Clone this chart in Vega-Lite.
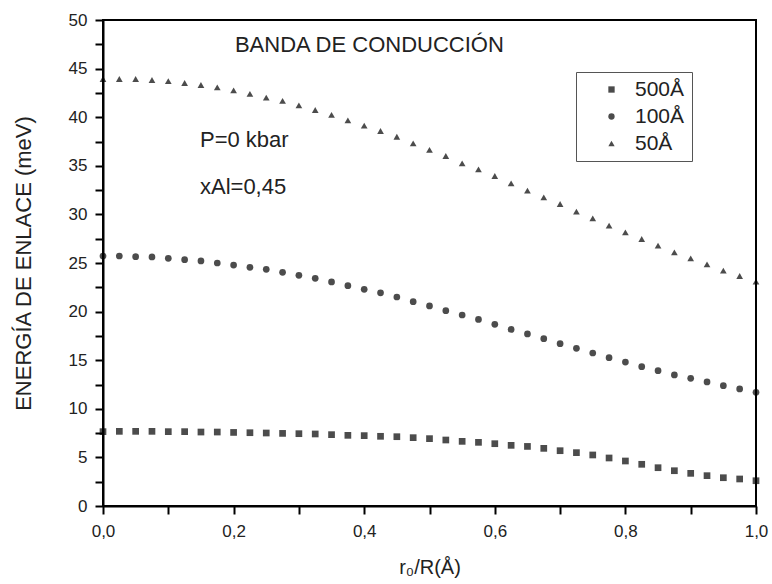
{
  "$schema": "https://vega.github.io/schema/vega-lite/v6.json",
  "width": 653,
  "height": 486,
  "autosize": {"type": "none"},
  "padding": {"left": 103, "top": 20, "right": 16, "bottom": 78},
  "background": "white",
  "config": {
    "view": {"stroke": "black", "strokeWidth": 2},
    "font": "Liberation Sans"
  },
  "datasets": {
    "curvas": [
      {"r": 0.0, "500Å": 7.65, "100Å": 25.72, "50Å": 43.93},
      {"r": 0.025, "500Å": 7.68, "100Å": 25.72, "50Å": 43.93},
      {"r": 0.05, "500Å": 7.68, "100Å": 25.65, "50Å": 43.93},
      {"r": 0.075, "500Å": 7.68, "100Å": 25.62, "50Å": 43.83},
      {"r": 0.1, "500Å": 7.65, "100Å": 25.48, "50Å": 43.72},
      {"r": 0.125, "500Å": 7.65, "100Å": 25.34, "50Å": 43.52},
      {"r": 0.15, "500Å": 7.61, "100Å": 25.21, "50Å": 43.31},
      {"r": 0.175, "500Å": 7.61, "100Å": 25.0, "50Å": 43.07},
      {"r": 0.2, "500Å": 7.57, "100Å": 24.79, "50Å": 42.76},
      {"r": 0.225, "500Å": 7.54, "100Å": 24.55, "50Å": 42.39},
      {"r": 0.25, "500Å": 7.51, "100Å": 24.35, "50Å": 42.01},
      {"r": 0.275, "500Å": 7.47, "100Å": 24.04, "50Å": 41.67},
      {"r": 0.3, "500Å": 7.44, "100Å": 23.73, "50Å": 41.22},
      {"r": 0.325, "500Å": 7.41, "100Å": 23.42, "50Å": 40.74},
      {"r": 0.35, "500Å": 7.34, "100Å": 23.05, "50Å": 40.23},
      {"r": 0.375, "500Å": 7.27, "100Å": 22.67, "50Å": 39.68},
      {"r": 0.4, "500Å": 7.24, "100Å": 22.29, "50Å": 39.13},
      {"r": 0.425, "500Å": 7.17, "100Å": 21.93, "50Å": 38.58},
      {"r": 0.45, "500Å": 7.13, "100Å": 21.5, "50Å": 37.99},
      {"r": 0.475, "500Å": 7.03, "100Å": 21.02, "50Å": 37.31},
      {"r": 0.5, "500Å": 6.93, "100Å": 20.58, "50Å": 36.63},
      {"r": 0.525, "500Å": 6.79, "100Å": 20.1, "50Å": 36.01},
      {"r": 0.55, "500Å": 6.65, "100Å": 19.65, "50Å": 35.25},
      {"r": 0.575, "500Å": 6.55, "100Å": 19.2, "50Å": 34.64},
      {"r": 0.6, "500Å": 6.41, "100Å": 18.69, "50Å": 33.95},
      {"r": 0.625, "500Å": 6.24, "100Å": 18.17, "50Å": 33.2},
      {"r": 0.65, "500Å": 6.13, "100Å": 17.7, "50Å": 32.45},
      {"r": 0.675, "500Å": 5.93, "100Å": 17.21, "50Å": 31.76},
      {"r": 0.7, "500Å": 5.69, "100Å": 16.7, "50Å": 31.07},
      {"r": 0.725, "500Å": 5.49, "100Å": 16.22, "50Å": 30.28},
      {"r": 0.75, "500Å": 5.25, "100Å": 15.74, "50Å": 29.6},
      {"r": 0.775, "500Å": 4.94, "100Å": 15.26, "50Å": 28.84},
      {"r": 0.8, "500Å": 4.63, "100Å": 14.81, "50Å": 28.16},
      {"r": 0.825, "500Å": 4.29, "100Å": 14.33, "50Å": 27.47},
      {"r": 0.85, "500Å": 3.94, "100Å": 13.92, "50Å": 26.78},
      {"r": 0.875, "500Å": 3.63, "100Å": 13.48, "50Å": 26.1},
      {"r": 0.9, "500Å": 3.36, "100Å": 13.14, "50Å": 25.48},
      {"r": 0.925, "500Å": 3.12, "100Å": 12.76, "50Å": 24.86},
      {"r": 0.95, "500Å": 2.91, "100Å": 12.38, "50Å": 24.21},
      {"r": 0.975, "500Å": 2.78, "100Å": 12.04, "50Å": 23.66},
      {"r": 1.0, "500Å": 2.6, "100Å": 11.7, "50Å": 23.08}
    ],
    "notas": [
      {"t": "BANDA DE CONDUCCIÓN", "r": 0.202, "E": 46.7},
      {"t": "P=0 kbar", "r": 0.1485, "E": 36.93},
      {"t": "xAl=0,45", "r": 0.1485, "E": 32.1}
    ]
  },
  "encoding": {
    "x": {
      "field": "r", "type": "quantitative",
      "scale": {"domain": [0, 1], "nice": false, "zero": false},
      "axis": {
        "title": "r₀/R(Å)",
        "titleFontWeight": "normal",
        "titleColor": "#222",
        "titleFontSize": 20,
        "titlePadding": 18,
        "gridOpacity": 0,
        "domainColor": "black",
        "domainWidth": 2,
        "tickColor": "black",
        "tickWidth": 2,
        "tickSize": 8,
        "values": [0, 0.1, 0.2, 0.3, 0.4, 0.5, 0.6, 0.7, 0.8, 0.9, 1.0],
        "labelExpr": "round(datum.value*10) % 2 === 0 ? replace(format(datum.value, '.1f'), '.', ',') : ''",
        "labelFlush": false,
        "labelFontSize": 17,
        "labelColor": "#222",
        "labelPadding": 9
      }
    },
    "y": {
      "field": "E", "type": "quantitative",
      "scale": {"domain": [0, 50], "nice": false},
      "axis": {
        "title": "ENERGÍA DE ENLACE (meV)",
        "titleFontWeight": "normal",
        "titleColor": "#222",
        "titleFontSize": 22,
        "titlePadding": 33,
        "gridOpacity": 0,
        "domainColor": "black",
        "domainWidth": 2,
        "tickColor": "black",
        "tickWidth": 2,
        "tickSize": 8,
        "values": [0, 2.5, 5, 7.5, 10, 12.5, 15, 17.5, 20, 22.5, 25, 27.5, 30, 32.5, 35, 37.5, 40, 42.5, 45, 47.5, 50],
        "labelExpr": "datum.value % 5 === 0 ? datum.label : ''",
        "labelFlush": false,
        "labelFontSize": 17,
        "labelColor": "#222",
        "labelPadding": 8
      }
    }
  },
  "layer": [
    {
      "data": {"name": "curvas"},
      "transform": [{"fold": ["500Å", "100Å", "50Å"], "as": ["serie", "E"]}],
      "mark": {"type": "point", "filled": true, "color": "black", "size": 45},
      "encoding": {
        "shape": {
          "field": "serie", "type": "nominal",
          "scale": {"domain": ["500Å", "100Å", "50Å"], "range": ["square", "circle", "triangle-up"]},
          "legend": {
            "title": null,
            "orient": "none",
            "legendX": 473,
            "legendY": 52,
            "direction": "vertical",
            "strokeColor": "#555",
            "padding": 7,
            "rowPadding": 5,
            "symbolSize": 40,
            "symbolFillColor": "black",
            "symbolStrokeColor": "black",
            "symbolOffset": 18,
            "labelOffset": 13,
            "labelFontSize": 21,
            "labelColor": "#222"
          }
        }
      }
    },
    {
      "data": {"name": "notas"},
      "mark": {"type": "text", "align": "left", "baseline": "alphabetic", "fontSize": 22, "color": "#222"},
      "encoding": {
        "text": {"field": "t"}
      }
    }
  ]
}
